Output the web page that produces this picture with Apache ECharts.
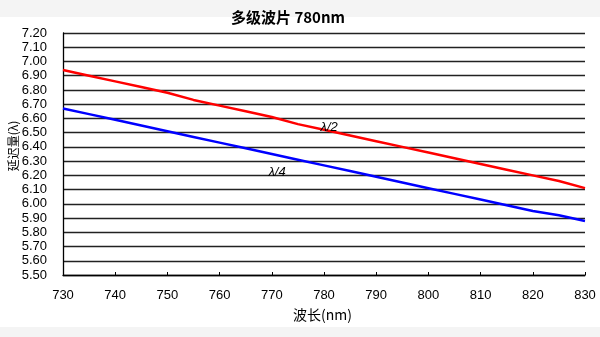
<!DOCTYPE html>
<html><head><meta charset="utf-8">
<script src="https://cdn.jsdelivr.net/npm/echarts@6/dist/echarts.min.js"></script>
<style>html,body{margin:0;padding:0;background:#fff}#c{width:600px;height:337px}</style>
</head><body><div id="c"></div>
<script>
const wavelengths = [730,735,740,745,750,755,760,765,770,775,780,785,790,795,800,805,810,815,820,825,830];
const halfWave = [6.94,6.90,6.86,6.82,6.78,6.73,6.69,6.65,6.61,6.56,6.52,6.48,6.44,6.40,6.36,6.32,6.28,6.24,6.20,6.16,6.11];
const quarterWave = [6.67,6.63,6.59,6.55,6.51,6.47,6.43,6.39,6.35,6.31,6.27,6.23,6.19,6.15,6.11,6.07,6.03,5.99,5.95,5.92,5.88];
const seriesNames = ['λ/2','λ/4'];
const titleText = '多级波片 780nm';
const xName = '波长(nm)';
const yName = '延迟量(λ)';

const chart = echarts.init(document.getElementById('c'));
const font = '"Liberation Sans", Arial, "Noto Sans CJK SC", sans-serif';
function tag(coord, text) {
  return {coord: coord, symbol:'circle', symbolSize:1, itemStyle:{color:'rgba(0,0,0,0)'},
    label:{show:true, formatter:text, position:'inside', color:'#000', fontStyle:'italic', fontSize:13, fontFamily:font}};
}
chart.setOption({
  animation: false,
  backgroundColor: '#fff',
  graphic: [
    {type:'rect', shape:{x:0,y:0,width:600,height:17}, style:{fill:'#f4f4f4'}, silent:true, z:-10},
    {type:'rect', shape:{x:0,y:327,width:600,height:10}, style:{fill:'#f4f4f4'}, silent:true, z:-10},
    {type:'text', left:231, top:10, style:{text:titleText, font:'bold 15px "Noto Sans CJK SC", sans-serif', fill:'#000'}},
    {type:'text', left:293, top:308, style:{text:xName, font:'14px "Noto Sans CJK SC", sans-serif', fill:'#000'}},
    {type:'text', x:13, y:146, rotation:Math.PI/2, style:{text:yName, font:'12px "Noto Sans CJK SC", sans-serif', fill:'#000', align:'center', verticalAlign:'middle'}}
  ],
  grid: {left:63, right:15, top:33, bottom:62, outerBoundsMode:'none', containLabel:false},
  xAxis: {
    type:'value', min:730, max:830, interval:10,
    axisLine:{show:true, lineStyle:{color:'#000', width:1.3}},
    axisTick:{show:true, inside:true, length:3, lineStyle:{color:'#000'}},
    axisLabel:{margin:14, color:'#000', fontSize:13, fontFamily:font},
    splitLine:{show:false}
  },
  yAxis: {
    type:'value', min:5.5, max:7.2, interval:0.1,
    axisLine:{show:true, lineStyle:{color:'#000', width:1.3}},
    axisTick:{show:false},
    axisLabel:{margin:16, color:'#000', fontSize:13, fontFamily:font, formatter:v=>v.toFixed(2)},
    splitLine:{show:true, lineStyle:{color:'#222', width:1.3}}
  },
  series: [
    {name:seriesNames[0], type:'line', data:wavelengths.map((w,i)=>[w,halfWave[i]]),
     showSymbol:false, lineStyle:{color:'#ff0000', width:2.5}, itemStyle:{color:'#ff0000'},
     markPoint:{data:[tag([781,6.54], seriesNames[0])]}},
    {name:seriesNames[1], type:'line', data:wavelengths.map((w,i)=>[w,quarterWave[i]]),
     showSymbol:false, lineStyle:{color:'#0000ff', width:2.5}, itemStyle:{color:'#0000ff'},
     markPoint:{data:[tag([771,6.22], seriesNames[1])]}}
  ]
});
</script></body></html>
